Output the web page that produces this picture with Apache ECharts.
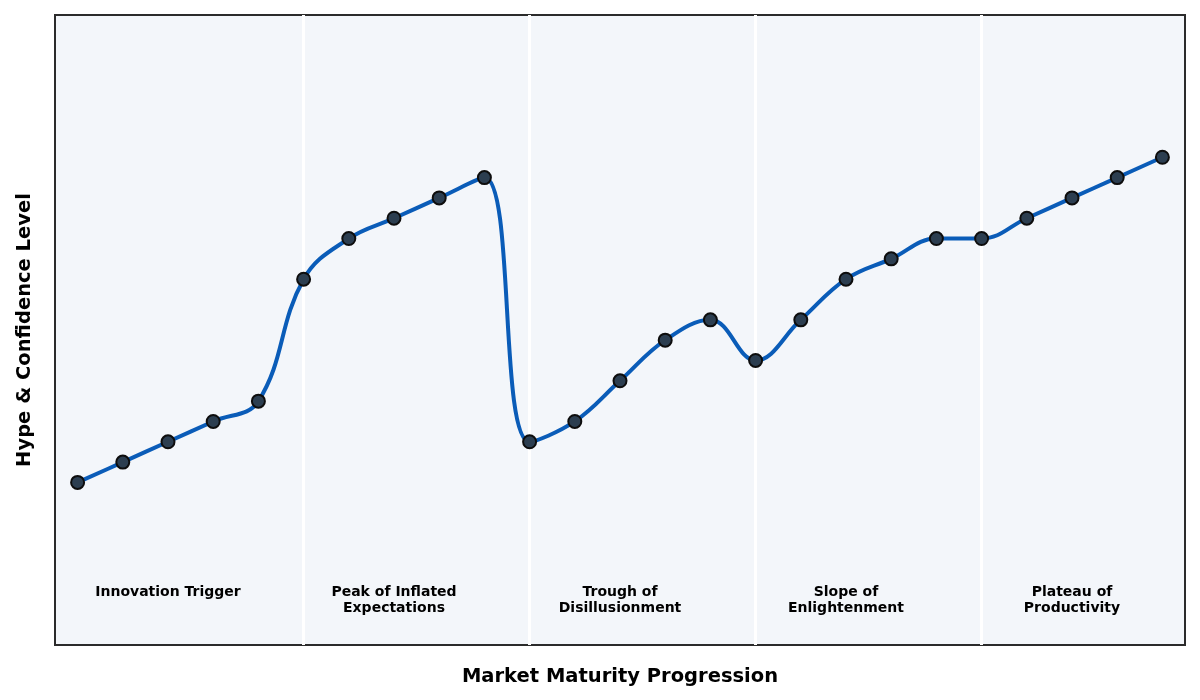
<!DOCTYPE html>
<html>
<head>
<meta charset="utf-8">
<script src="https://cdn.jsdelivr.net/npm/echarts@6/dist/echarts.min.js"></script>
<style>
  html, body { margin: 0; padding: 0; background: #fff; }
  #container { width: 1200px; height: 700px; }
</style>
</head>
<body>
<div id="container"></div>
<script>
// chart data
var steps = [0, 1, 2, 3, 4, 5, 6, 7, 8, 9, 10, 11, 12, 13, 14, 15, 16, 17, 18, 19, 20, 21, 22, 23, 24];
var hype = [10, 15, 20, 25, 30, 60, 70, 75, 80, 85, 20, 25, 35, 45, 50, 40, 50, 60, 65, 70, 70, 75, 80, 85, 90];
var phaseBounds = [5, 10, 15, 20];
var phaseCenters = [2, 7, 12, 17, 22];
var phaseNames = ['Innovation Trigger', 'Peak of Inflated\nExpectations', 'Trough of\nDisillusionment', 'Slope of\nEnlightenment', 'Plateau of\nProductivity'];
var phaseLabelY = -15;

var myChart = echarts.init(document.getElementById('container'));

var lineData = [];
for (var i = 0; i < steps.length; i++) {
	lineData.push([steps[i], hype[i]]);
}
var labelData = [];
for (var j = 0; j < phaseCenters.length; j++) {
	labelData.push({ name: phaseNames[j], value: [phaseCenters[j], phaseLabelY] });
}
var boundLines = [];
for (var k = 0; k < phaseBounds.length; k++) {
	boundLines.push({ xAxis: phaseBounds[k] });
}

var font = 'DejaVu Sans';
var option = {
	animation: false,
	textStyle: { fontFamily: font },
	grid: {
		left: 55, right: 15, top: 15, bottom: 55,
		show: true,
		backgroundColor: '#f3f6fa',
		borderColor: '#2b2b2b',
		borderWidth: 2
	},
	xAxis: {
		type: 'value',
		min: -0.5,
		max: 24.5,
		axisLine: { show: false },
		axisTick: { show: false },
		axisLabel: { show: false },
		splitLine: { show: false },
		name: 'Market Maturity Progression',
		nameLocation: 'middle',
		nameGap: 22,
		nameTextStyle: { fontFamily: font, fontSize: 19.5, fontWeight: 'bold', color: '#000' }
	},
	yAxis: {
		type: 'value',
		min: -30,
		max: 125,
		axisLine: { show: false },
		axisTick: { show: false },
		axisLabel: { show: false },
		splitLine: { show: false },
		name: 'Hype & Confidence Level',
		nameLocation: 'middle',
		nameGap: 20,
		nameTextStyle: { fontFamily: font, fontSize: 19.5, fontWeight: 'bold', color: '#000' }
	},
	series: [{
		// phase labels + boundaries
		type: 'scatter',
		z: 1,
		symbolSize: 0,
		itemStyle: { opacity: 1 },
		data: labelData,
		label: {
			show: true,
			position: 'bottom',
			distance: 0,
			formatter: '{b}',
			fontFamily: font,
			fontSize: 14,
			fontWeight: 'bold',
			color: '#000',
			opacity: 1,
			align: 'center',
			lineHeight: 16
		},
		markLine: {
			silent: true,
			z: 1,
			symbol: 'none',
			label: { show: false },
			lineStyle: { color: '#ffffff', width: 3, type: 'solid', opacity: 1 },
			data: boundLines
		}
	}, {
		name: 'Hype',
		type: 'line',
		z: 3,
		data: lineData,
		smooth: 0.4,
		symbol: 'circle',
		symbolSize: 13,
		lineStyle: { color: '#0a5cb8', width: 4 },
		itemStyle: { color: '#2c3e50', borderColor: '#0d0d0d', borderWidth: 2 }
	}]
};
myChart.setOption(option);
</script>
</body>
</html>
